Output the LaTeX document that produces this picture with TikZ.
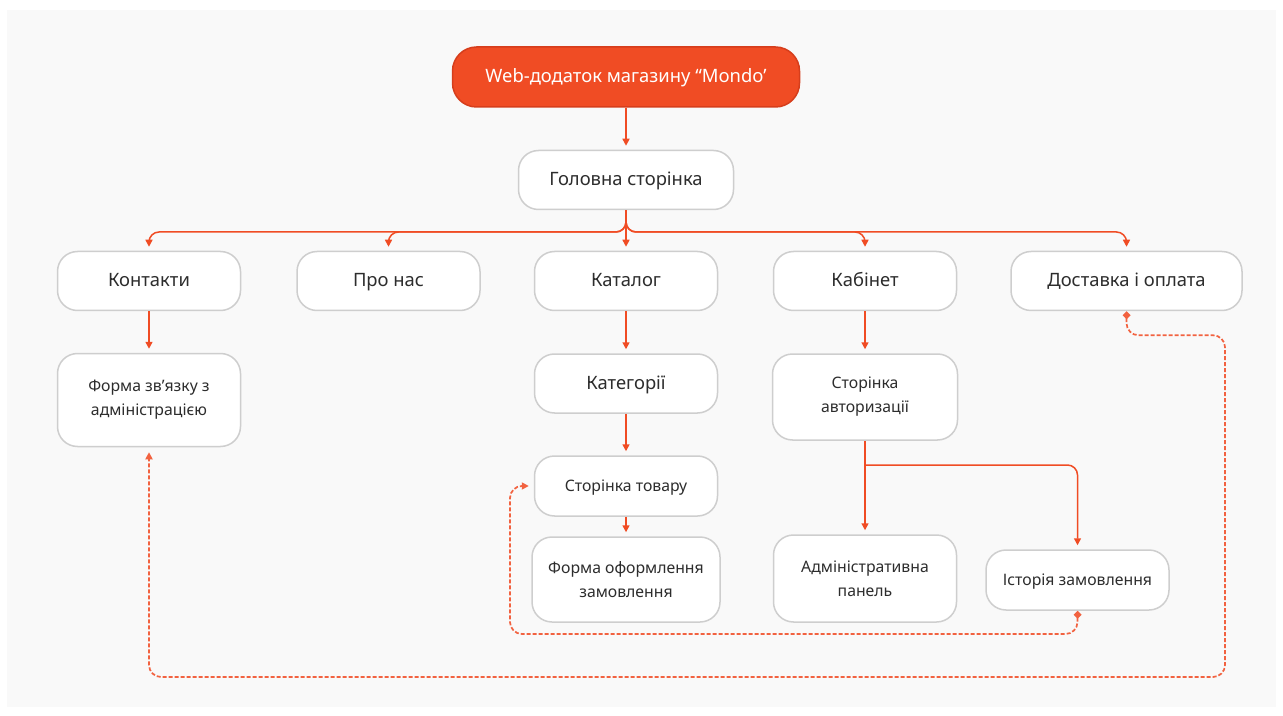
\documentclass[tikz,border=0pt]{standalone}
\usepackage{fontspec}
\setmainfont{Noto Sans}
\usepackage{xcolor}
\usepackage{tikz}
\usetikzlibrary{arrows.meta, calc}
\definecolor{mdorange}{RGB}{240,76,36}
\definecolor{mdedge}{RGB}{214,62,28}
\definecolor{mdgrey}{RGB}{206,206,206}
\definecolor{mdtext}{RGB}{45,45,45}
\definecolor{mdpanel}{RGB}{249,249,249}
\definecolor{mddot}{RGB}{242,98,64}

\begin{document}
\begin{tikzpicture}[x=0.5pt, y=-0.5pt,
  every node/.style={font=\fontsize{9.2}{11}\selectfont, text=mdtext},
  root/.style={rectangle, draw=mdedge, fill=mdorange, text=white,
               minimum width=173.5pt, minimum height=30pt,
               rounded corners=12pt, line width=0.75pt,
               text height=1.55ex, text depth=0.45ex},
  box/.style={rectangle, draw=mdgrey, fill=white, align=center,
              minimum width=91.5pt, minimum height=29.5pt,
              rounded corners=10pt, line width=0.75pt},
  page/.style={box, text height=1.55ex, text depth=0.45ex},
  twoline/.style={box, font=\fontsize{7.9}{12}\selectfont},
  small/.style={font=\fontsize{7.9}{12}\selectfont},
  flow/.style={-{Triangle[length=3.5pt,width=3.5pt]}, line width=0.75pt,
               draw=mdorange, rounded corners=5pt, shorten >=2pt},
  link/.style={{Diamond[length=4pt,width=4pt]}-{Triangle[length=3.5pt,width=3.5pt]},
               line width=0.85pt, draw=mddot, dash pattern=on 2pt off 1pt,
               rounded corners=6pt, shorten >=2.5pt},
]
\useasboundingbox (0,0) rectangle (1283,716);
\fill[mdpanel] (7,10) rectangle (1276,707);

% Root and home
\node[root] (app) at (626,77) {Web-додаток магазину “Mondo’};
\node[page, minimum width=107.5pt] (home) at (626,180) {Головна сторінка};

% Top-level pages
\node[page] (contacts) at (149,281) {Контакти};
\node[page] (about)    at (388.5,281) {Про нас};
\node[page] (catalog)  at (626,281)   {Каталог};
\node[page] (cabinet)  at (865,281)   {Кабінет};
\node[page, minimum width=115.5pt] (delivery) at (1126.5,281) {Доставка і оплата};

% Sub-pages
\node[twoline, minimum height=46.5pt] (feedback) at (149,400) {Форма зв’язку з\\адміністрацією};
\node[page] (categories) at (626,383.5) {Категорії};
\node[twoline, minimum width=92.5pt, minimum height=43pt] (login) at (865,397) {Сторінка\\авторизації};
\node[page, small, minimum height=30pt] (product) at (626,486) {Сторінка товару};
\node[twoline, minimum width=94pt, minimum height=42.5pt] (checkout) at (626,579.5) {Форма оформлення\\замовлення};
\node[twoline, minimum height=43.5pt] (admin) at (865,578.5) {Адміністративна\\панель};
\node[page, small, minimum height=30pt] (history) at (1077.5,580) {Історія замовлення};

% Bends
\coordinate (bus)   at (626,232);
\coordinate (fork)  at (865,465);
\coordinate (backL) at (510,634);
\coordinate (backR) at (1225,677);

% ── Main flows ──
\draw[flow] (app) -- (home);
\draw[flow] (home.south) -- (bus) -| (contacts.north);
\draw[flow] (home.south) -- (bus) -| (about.north);
\draw[flow] (home.south) -- (catalog.north);
\draw[flow] (home.south) -- (bus) -| (cabinet.north);
\draw[flow] (home.south) -- (bus) -| (delivery.north);

% ── Sub-page flows ──
\draw[flow] (contacts) -- (feedback);
\draw[flow] (catalog) -- (categories);
\draw[flow] (categories) -- (product);
\draw[flow] (product) -- (checkout);
\draw[flow] (cabinet) -- (login);
\draw[flow] (login) -- (admin);
\draw[flow] (fork) -| (history.north);

% ── Back links ──
\draw[link] (history.south) |- (backL) |- (product.west);
\draw[link] (delivery.south) -- ++(0,24) -| (backR) -| (feedback.south);

\end{tikzpicture}
\end{document}
